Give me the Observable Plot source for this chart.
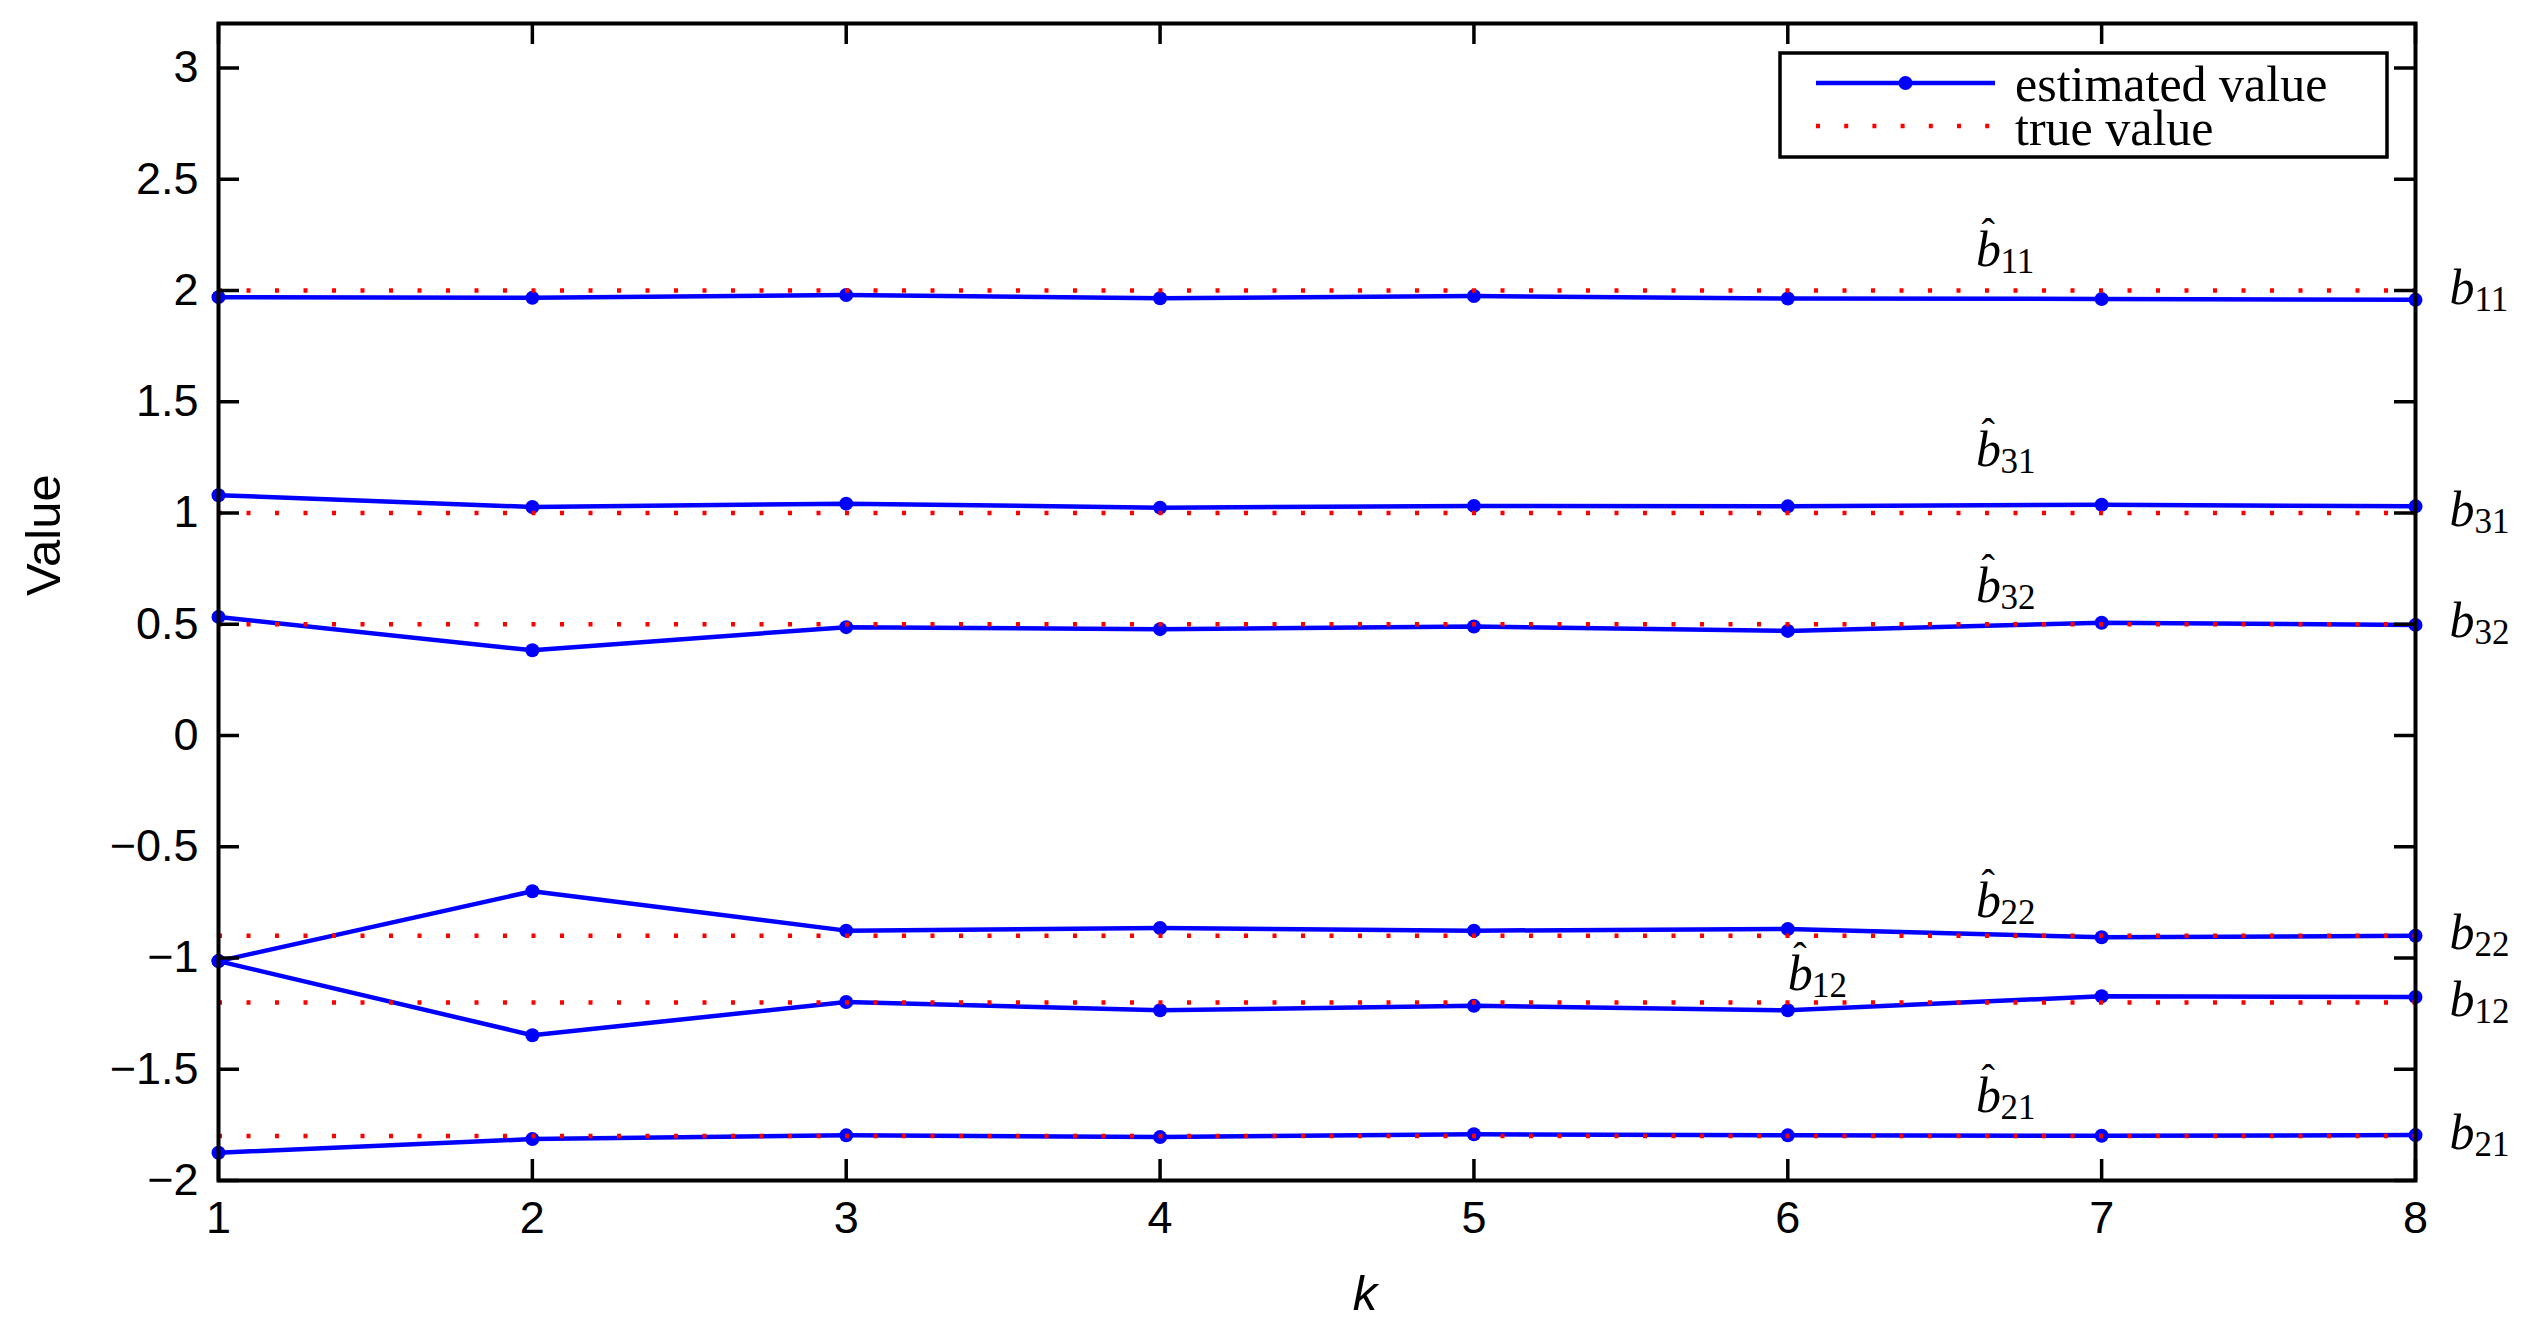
<!DOCTYPE html>
<html>
<head>
<meta charset="utf-8">
<script src="https://cdn.jsdelivr.net/npm/d3@7"></script>
<script src="https://cdn.jsdelivr.net/npm/@observablehq/plot@0.6"></script>
<style>
  html, body { margin: 0; padding: 0; background: white; }
  svg { display: block; }
</style>
</head>
<body>
<div id="chart"></div>
<script>
// ---- data ----
const k = [1, 2, 3, 4, 5, 6, 7, 8];
const seriesNames = ["b11", "b31", "b32", "b22", "b12", "b21"];
const subscripts = ["11", "31", "32", "22", "12", "21"];
const b11Est = [1.970, 1.967, 1.980, 1.965, 1.975, 1.964, 1.962, 1.958];
const b31Est = [1.080, 1.027, 1.042, 1.024, 1.032, 1.030, 1.037, 1.030];
const b32Est = [0.533, 0.383, 0.487, 0.478, 0.490, 0.470, 0.507, 0.497];
const b22Est = [-1.014, -0.700, -0.877, -0.865, -0.877, -0.870, -0.907, -0.900];
const b12Est = [-1.014, -1.347, -1.198, -1.235, -1.215, -1.235, -1.172, -1.175];
const b21Est = [-1.875, -1.814, -1.797, -1.805, -1.792, -1.797, -1.799, -1.796];
const trueValues = [2, 1, 0.5, -0.9, -1.2, -1.8];
const hatLabelK = [6.6, 6.6, 6.6, 6.6, 6.0, 6.6];
const hatLabelValue = [2.108, 1.209, 0.602, -0.817, -1.142, -1.694];
const xTicks = [1, 2, 3, 4, 5, 6, 7, 8];
const yTicks = [-2, -1.5, -1, -0.5, 0, 0.5, 1, 1.5, 2, 2.5, 3];
const xDomain = [1, 8];
const yDomain = [-2, 3.2];
const legendLabels = ["estimated value", "true value"];
const xLabel = "k";
const yLabel = "Value";

// ---- tables ----
const estArrays = [b11Est, b31Est, b32Est, b22Est, b12Est, b21Est];
const estData = [];
seriesNames.forEach((s, i) => k.forEach((kk, j) => estData.push({series: s, k: kk, v: estArrays[i][j]})));
const trueData = seriesNames.map((s, i) => ({series: s, v: trueValues[i], sub: subscripts[i]}));
const hatData = seriesNames.map((s, i) => ({series: s, k: hatLabelK[i], v: hatLabelValue[i], sub: subscripts[i]}));

// ---- layout ----
const W = 2530, H = 1334;
const mL = 218, mR = 115, mT = 23, mB = 154;
const fw = W - mL - mR, fh = H - mT - mB;
const tickLen = 21;
const BLUE = "#0000ff", RED = "#ff0000";
const serif = "'Liberation Serif', 'Times New Roman', serif";
const sans = "'Liberation Sans', Arial, Helvetica, sans-serif";

const fmt = d => String(d).replace("-", "\u2212");
const HAT = "\u00A7h", PLAIN = "\u00A7p"; // markers, replaced by math-style tspans below

const plot = Plot.plot({
  width: W, height: H,
  marginLeft: mL, marginRight: mR, marginTop: mT, marginBottom: mB,
  style: {background: "white", fontFamily: sans, fontSize: "45px", color: "black"},
  x: {domain: xDomain},
  y: {domain: yDomain},
  marks: [
    // estimated values
    Plot.line(estData, {x: "k", y: "v", z: "series", stroke: BLUE, strokeWidth: 4.5}),
    Plot.dot(estData, {x: "k", y: "v", r: 7, fill: BLUE, stroke: null}),
    // true values (dotted)
    Plot.ruleY(trueData, {y: "v", stroke: RED, strokeWidth: 4.5, strokeDasharray: "4,24.5", strokeLinecap: "butt"}),
    // hat labels (estimates)
    Plot.text(hatData, {x: "k", y: "v", text: d => HAT + d.sub, fontFamily: serif, fontSize: 50, textAnchor: "start", lineAnchor: "bottom", fill: "black"}),
    // right labels at true values
    Plot.text(trueData, {x: () => xDomain[1], y: "v", text: d => PLAIN + d.sub, fontFamily: serif, fontSize: 50, textAnchor: "start", lineAnchor: "bottom", dx: 34, dy: 13, fill: "black"}),
    // tick labels
    Plot.axisX({ticks: xTicks, tickSize: 0, tickPadding: 21, fontSize: 45, fontFamily: sans, label: null, tickFormat: fmt}),
    Plot.axisY({ticks: yTicks, tickSize: 0, tickPadding: 20, fontSize: 45, fontFamily: sans, label: null, tickFormat: fmt}),
    // inward ticks on all sides
    Plot.tickY(yTicks, {y: d => d, insetRight: fw - tickLen, stroke: "black", strokeWidth: 3.5}),
    Plot.tickY(yTicks, {y: d => d, insetLeft: fw - tickLen, stroke: "black", strokeWidth: 3.5}),
    Plot.tickX(xTicks, {x: d => d, insetTop: fh - tickLen, stroke: "black", strokeWidth: 3.5}),
    Plot.tickX(xTicks, {x: d => d, insetBottom: fh - tickLen, stroke: "black", strokeWidth: 3.5}),
    Plot.frame({stroke: "black", strokeWidth: 4}),
    // axis titles
    Plot.text([xLabel], {frameAnchor: "bottom", text: d => d, fontFamily: sans, fontStyle: "italic", fontSize: 49, lineAnchor: "bottom", dx: 48, dy: 129, fill: "black"}),
    Plot.text([yLabel], {frameAnchor: "left", text: d => d, fontFamily: sans, fontSize: 49, rotate: -90, lineAnchor: "middle", dx: -174, dy: -6, fill: "black"})
  ]
});

document.getElementById("chart").appendChild(plot);
const svg = d3.select(plot);

// ---- typeset the b labels as one text each: italic b, optional hat, subscript ----
svg.selectAll("text").each(function() {
  const t = this.textContent;
  if (!t.startsWith("\u00A7")) return;
  const hasHat = t[1] === "h";
  const sub = t.slice(2);
  const el = d3.select(this);
  el.text(null);
  el.append("tspan").attr("font-style", "italic").text("b");
  if (hasHat) {
    el.append("tspan").attr("font-size", 40).attr("dx", -19.5).attr("dy", -20).text("\u02C6");
    el.append("tspan").attr("font-size", 35).attr("dx", 5.5).attr("dy", 27).text(sub);
  } else {
    el.append("tspan").attr("font-size", 35).attr("dx", 0).attr("dy", 7).text(sub);
  }
});

// ---- legend (inside the plot frame, top-right) ----
const frameRight = W - mR, frameTop = mT;
const box = {x0: frameRight - 635, x1: frameRight - 28, y0: frameTop + 30, y1: frameTop + 134};
const lg = svg.append("g").attr("class", "legend");
lg.append("rect")
  .attr("x", box.x0).attr("y", box.y0)
  .attr("width", box.x1 - box.x0).attr("height", box.y1 - box.y0)
  .attr("fill", "white").attr("stroke", "black").attr("stroke-width", 3.5);
const sx0 = box.x0 + 36, sx1 = box.x0 + 215;
const row1 = box.y0 + 30, row2 = box.y0 + 73;
lg.append("line").attr("x1", sx0).attr("x2", sx1).attr("y1", row1).attr("y2", row1)
  .attr("stroke", BLUE).attr("stroke-width", 4.5);
lg.append("circle").attr("cx", (sx0 + sx1) / 2).attr("cy", row1).attr("r", 7).attr("fill", BLUE);
lg.append("line").attr("x1", sx0).attr("x2", sx1 - 5).attr("y1", row2).attr("y2", row2)
  .attr("stroke", RED).attr("stroke-width", 4.5).attr("stroke-dasharray", "4,24.2");
lg.append("text").attr("x", box.x0 + 235).attr("y", row1 + 17.7)
  .attr("text-anchor", "start")
  .attr("font-family", serif).attr("font-size", 50).attr("fill", "black").text(legendLabels[0]);
lg.append("text").attr("x", box.x0 + 235).attr("y", row2 + 19)
  .attr("text-anchor", "start")
  .attr("font-family", serif).attr("font-size", 50).attr("fill", "black").text(legendLabels[1]);
</script>
</body>
</html>
